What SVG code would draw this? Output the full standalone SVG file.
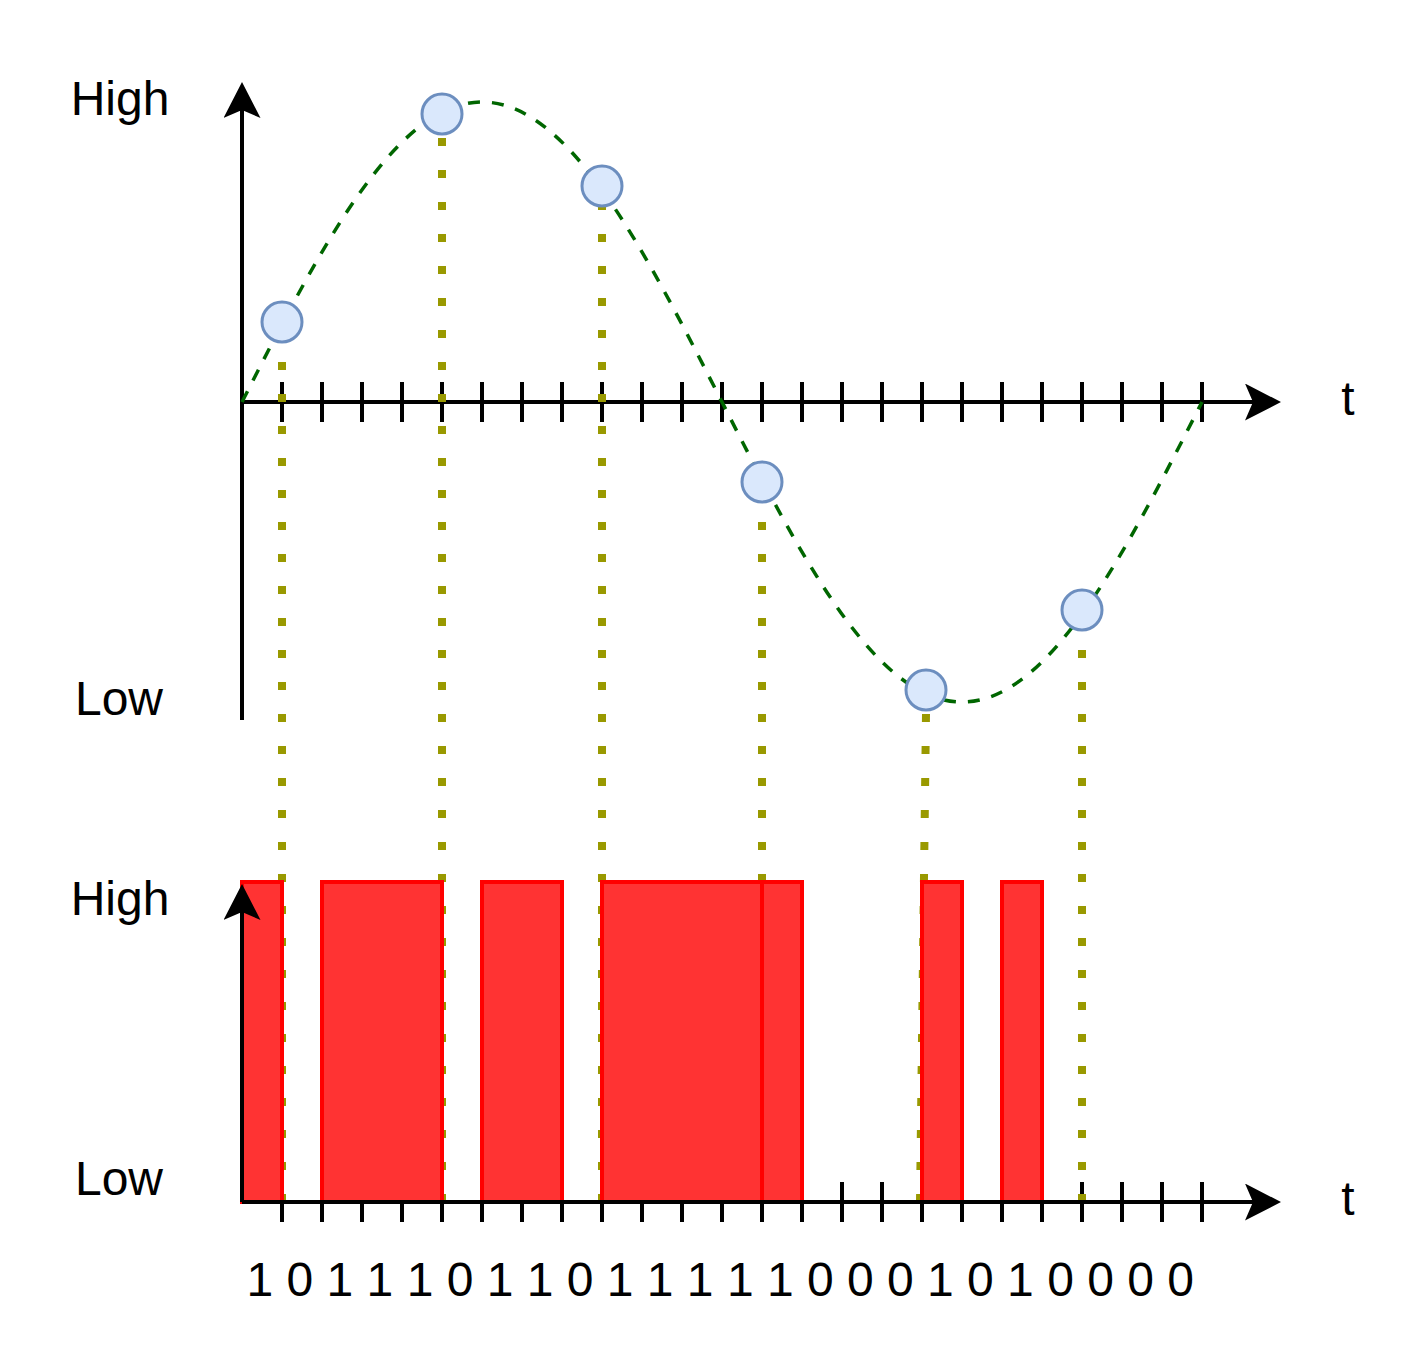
<svg xmlns="http://www.w3.org/2000/svg" width="1404" height="1364" viewBox="0 0 1404 1364">
<style>
.axis{stroke:#000;stroke-width:4;fill:none}
.tick{stroke:#000;stroke-width:4;fill:none}
.dot{stroke:#999900;stroke-width:8;stroke-dasharray:8 24;fill:none}
.bar{fill:#FF3333;stroke:#FF0000;stroke-width:4}
.sample{fill:#dae8fc;stroke:#6c8ebf;stroke-width:3}
.wave{fill:none;stroke:#006600;stroke-width:3.5;stroke-dasharray:12 12}
.lbl{font-family:"Liberation Sans",Arial,sans-serif;font-size:48px;fill:#000}
</style>
<defs>
<marker id="arrow" markerUnits="userSpaceOnUse" markerWidth="38" markerHeight="38" viewBox="0 0 38 38" refX="8" refY="18.5" orient="auto">
<path d="M36 18.5 L0 0 L8 18.5 L0 37 Z" fill="#000"/>
</marker>
</defs>
<rect width="1404" height="1364" fill="#fff"/>
<g id="ticks">
<path class="tick" d="M282 382V422M322 382V422M362 382V422M402 382V422M442 382V422M482 382V422M522 382V422M562 382V422M602 382V422M642 382V422M682 382V422M722 382V422M762 382V422M802 382V422M842 382V422M882 382V422M922 382V422M962 382V422M1002 382V422M1042 382V422M1082 382V422M1122 382V422M1162 382V422M1202 382V422"/>
<path class="tick" d="M282 1182V1222M322 1182V1222M362 1182V1222M402 1182V1222M442 1182V1222M482 1182V1222M522 1182V1222M562 1182V1222M602 1182V1222M642 1182V1222M682 1182V1222M722 1182V1222M762 1182V1222M802 1182V1222M842 1182V1222M882 1182V1222M922 1182V1222M962 1182V1222M1002 1182V1222M1042 1182V1222M1082 1182V1222M1122 1182V1222M1162 1182V1222M1202 1182V1222"/>
</g>
<g id="top-axes">
<path class="axis" d="M242 720V110" marker-end="url(#arrow)"/>
<path class="axis" d="M242 402H1253" marker-end="url(#arrow)"/>
</g>
<g id="analog-signal">
<path class="wave" d="M242 402 C320.3 248.3 395.1 102 482 102 C568.9 102 643.7 248.3 722 402 C800.3 555.7 875.1 702 962 702 C1048.9 702 1123.7 555.7 1202 402"/>
</g>
<g id="connectors">
<path class="dot" d="M282 330V1202"/>
<path class="dot" d="M442 138V1202"/>
<path class="dot" d="M602 202V1202"/>
<path class="dot" d="M762 490V1202"/>
<path class="dot" d="M926 714L920 1202"/>
<path class="dot" d="M1082 618V1202"/>
</g>
<g id="digital-signal">
<rect class="bar" x="242" y="882" width="40" height="320"/>
<rect class="bar" x="322" y="882" width="120" height="320"/>
<rect class="bar" x="482" y="882" width="80" height="320"/>
<rect class="bar" x="602" y="882" width="160" height="320"/>
<rect class="bar" x="762" y="882" width="40" height="320"/>
<rect class="bar" x="922" y="882" width="40" height="320"/>
<rect class="bar" x="1002" y="882" width="40" height="320"/>
</g>
<g id="bottom-axes">
<path class="axis" d="M242 1202V912" marker-end="url(#arrow)"/>
<path class="axis" d="M242 1202H1253" marker-end="url(#arrow)"/>
</g>
<g id="samples">
<circle id="s1" class="sample" cx="282" cy="322" r="20"/>
<circle id="s2" class="sample" cx="442" cy="114" r="20"/>
<circle id="s3" class="sample" cx="602" cy="186" r="20"/>
<circle id="s4" class="sample" cx="762" cy="482" r="20"/>
<circle id="s5" class="sample" cx="926" cy="690" r="20"/>
<circle id="s6" class="sample" cx="1082" cy="610" r="20"/>
</g>
<g id="labels">
<text class="lbl" x="120" y="115" text-anchor="middle">High</text>
<text class="lbl" x="119" y="715" text-anchor="middle">Low</text>
<text class="lbl" x="120" y="915" text-anchor="middle">High</text>
<text class="lbl" x="119" y="1195" text-anchor="middle">Low</text>
<text class="lbl" x="1348" y="415" text-anchor="middle">t</text>
<text class="lbl" x="1348" y="1215" text-anchor="middle">t</text>
<text class="lbl" x="246.5" y="1296">1 0 1 1 1 0 1 1 0 1 1 1 1 1 0 0 0 1 0 1 0 0 0 0</text>
</g>
</svg>
